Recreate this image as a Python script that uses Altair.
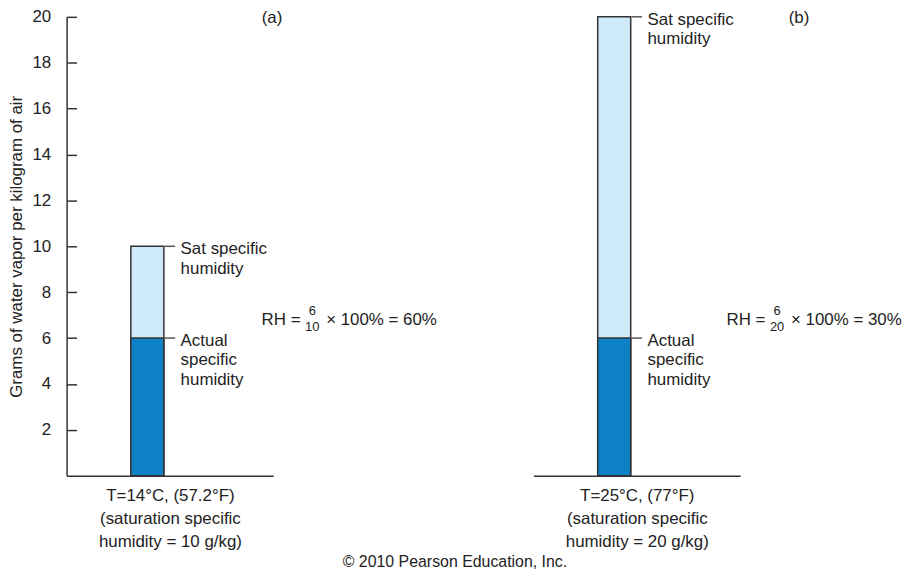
import altair as alt
import pandas as pd

panel_labels = ["(a)", "(b)"]
axis_titles = [
    ["T=14°C, (57.2°F)", "(saturation specific", "humidity = 10 g/kg)"],
    ["T=25°C, (77°F)", "(saturation specific", "humidity = 20 g/kg)"],
]
sat_values = [10, 20]
actual_values = [6, 6]
rh_numerators = ["6", "6"]
rh_denominators = ["10", "20"]
rh_lead = "RH ="
rh_results = ["× 100% = 60%", "× 100% = 30%"]
sat_label = ["Sat specific", "humidity"]
actual_label = ["Actual", "specific", "humidity"]
y_ticks = [2, 4, 6, 8, 10, 12, 14, 16, 18, 20]
y_title = "Grams of water vapor per kilogram of air"
credit = "© 2010 Pearson Education, Inc."

FONT = "Liberation Sans"
TXT = "#222222"
LIGHT = "#cfeaf9"
DARK = "#0d80c6"
EDGE = "#333333"
W, H = 208, 462
label_dx = [125.5, 186]
rh_dx = [115, 113]


def panel(i):
    df = pd.DataFrame({"cat": [panel_labels[i]],
                       "sat": [sat_values[i]],
                       "actual": [actual_values[i]]})
    base = alt.Chart(df)
    xscale = alt.Scale(paddingInner=0.62, paddingOuter=1, align=0.37)
    xaxis = alt.Axis(title=axis_titles[i], labels=False, ticks=False,
                     domainColor=EDGE, domainWidth=1.5,
                     titleFont=FONT, titleFontSize=17, titleFontWeight="normal",
                     titleColor=TXT, titleLineHeight=23, titlePadding=12)
    x = alt.X("cat:N", scale=xscale, axis=xaxis)
    yscale = alt.Scale(domain=[0, 20], nice=False)
    if i == 0:
        yaxis = alt.Axis(orient="left", values=y_ticks, ticks=False, domainColor=EDGE,
                         domainWidth=1.5, labelFont=FONT, labelFontSize=17,
                         labelColor=TXT, labelPadding=16, title=y_title,
                         titleFont=FONT, titleFontSize=17, titleFontWeight="normal",
                         titleColor=TXT, titlePadding=6, grid=False)
        yaxis2 = alt.Axis(orient="right", offset=-W, values=y_ticks, labels=False,
                          domain=False, tickSize=10, tickColor=EDGE, tickWidth=1.5,
                          title=None, grid=False)
    else:
        yaxis = None
        yaxis2 = None

    def yq(field):
        return alt.Y(field, scale=yscale, axis=None)

    light = base.mark_bar(color=LIGHT, stroke=EDGE, strokeWidth=1.5).encode(
        x=x, y=alt.Y("sat:Q", scale=yscale, axis=yaxis))
    dark = base.mark_bar(color=DARK, stroke=EDGE, strokeWidth=1.5).encode(
        x=x, y=alt.Y("actual:Q", scale=yscale, axis=yaxis2))
    lead_sat = base.mark_rule(color="#555555", strokeWidth=1.5, xOffset=17.5, x2Offset=28).encode(
        x=x, x2="cat:N", y=yq("sat:Q"))
    lead_act = base.mark_rule(color="#555555", strokeWidth=1.5, xOffset=17.5, x2Offset=28).encode(
        x=x, x2="cat:N", y=yq("actual:Q"))
    tkw = dict(font=FONT, fontSize=17, color=TXT, align="left", baseline="top", lineHeight=19.5)
    t_sat = base.mark_text(text=sat_label, dx=33.5, dy=-5, **tkw).encode(x=x, y=yq("sat:Q"))
    t_act = base.mark_text(text=actual_label, dx=33.5, dy=-5, **tkw).encode(x=x, y=yq("actual:Q"))
    rkw = dict(font=FONT, color=TXT, baseline="middle")
    d0 = rh_dx[i]
    rh1 = base.mark_text(text=rh_lead, fontSize=17, align="left", dx=d0, dy=-18, **rkw).encode(
        x=x, y=yq("actual:Q"))
    rh_num = base.mark_text(text=rh_numerators[i], fontSize=13, align="center", dx=d0 + 51, dy=-27, **rkw).encode(
        x=x, y=yq("actual:Q"))
    rh_den = base.mark_text(text=rh_denominators[i], fontSize=13, align="center", dx=d0 + 51, dy=-11, **rkw).encode(
        x=x, y=yq("actual:Q"))
    rh2 = base.mark_text(text=rh_results[i], fontSize=17, align="left", dx=d0 + 65, dy=-18, **rkw).encode(
        x=x, y=yq("actual:Q"))
    tag = base.mark_text(text=panel_labels[i], fontSize=17, align="center", dx=label_dx[i], dy=1, **rkw).encode(
        x=x, y=alt.Y(datum=20, scale=yscale, axis=None))
    layer = alt.layer(light, dark, lead_sat, lead_act, t_sat, t_act, rh1, rh_num, rh_den, rh2, tag)
    if i == 0:
        layer = layer.resolve_axis(y="independent")
    return layer.properties(width=W, height=H)


chart = alt.hconcat(panel(0), panel(1), spacing=262, bounds="flush").properties(
    padding={"top": -2, "left": 0, "right": 0, "bottom": -1},
    background="white",
    title=alt.TitleParams(text=credit, orient="bottom", anchor="middle", frame="bounds",
                          font=FONT, fontSize=16, fontWeight="normal", color=TXT, offset=5),
).configure_view(stroke=None)

chart.save("out.html", embed_options={"renderer": "svg", "actions": False})
